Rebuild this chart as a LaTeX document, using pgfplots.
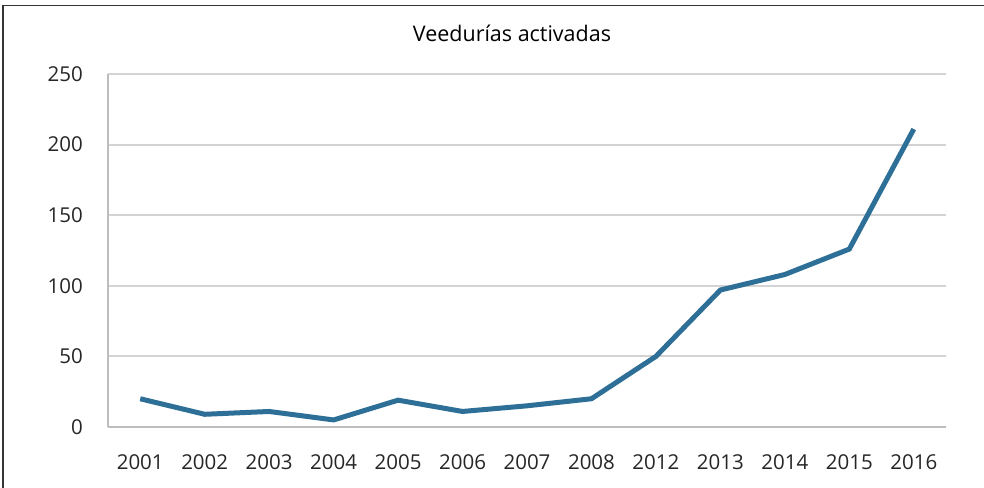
\documentclass[border=0pt]{standalone}
\usepackage{fontspec}
\setmainfont{Open Sans}
\usepackage{pgfplots}
\pgfplotsset{compat=1.18}
\definecolor{ser}{HTML}{2E6F97}
\definecolor{gridc}{HTML}{D3D3D3}
\definecolor{axc}{HTML}{BDBDBD}
\begin{document}
\fontsize{20.5bp}{24bp}\selectfont
\begin{tikzpicture}
\path[use as bounding box] (0,0) rectangle (984bp,488bp);
\draw[line width=1.5bp, color=black!80] (3bp,0) -- (3bp,482.5bp) -- (984bp,482.5bp);
\node[inner sep=0pt, font=\fontsize{21.5bp}{25bp}\selectfont] at (512bp,455bp) {Veedurías activadas};
\begin{axis}[
  at={(108bp,61bp)}, anchor=south west,
  scale only axis, width=838bp, height=353bp,
  xmin=-0.5, xmax=12.5, ymin=0, ymax=250,
  ytick={0,50,...,250},
  xtick={0,...,12},
  xticklabels={2001,2002,2003,2004,2005,2006,2007,2008,2012,2013,2014,2015,2016},
  axis x line*=bottom, axis y line*=left,
  axis line style={axc, line width=2bp},
  major tick length=0pt,
  ymajorgrids, grid style={gridc, line width=2bp},
  /pgf/number format/assume math mode=true,
  tick label style={font=\fontsize{20.5bp}{24bp}\selectfont, color=black!85, inner sep=0pt},
  yticklabel style={anchor=east, xshift=-25bp},
  xticklabel style={anchor=north, yshift=-27bp},
  clip=false,
]
\addplot[ser, line width=5bp, line join=miter] coordinates {
(0,20)(1,9)(2,11)(3,5)(4,19)(5,11)(6,15)(7,20)(8,50)(9,97)(10,108)(11,126)(12,211)
};
\end{axis}
\end{tikzpicture}
\end{document}
